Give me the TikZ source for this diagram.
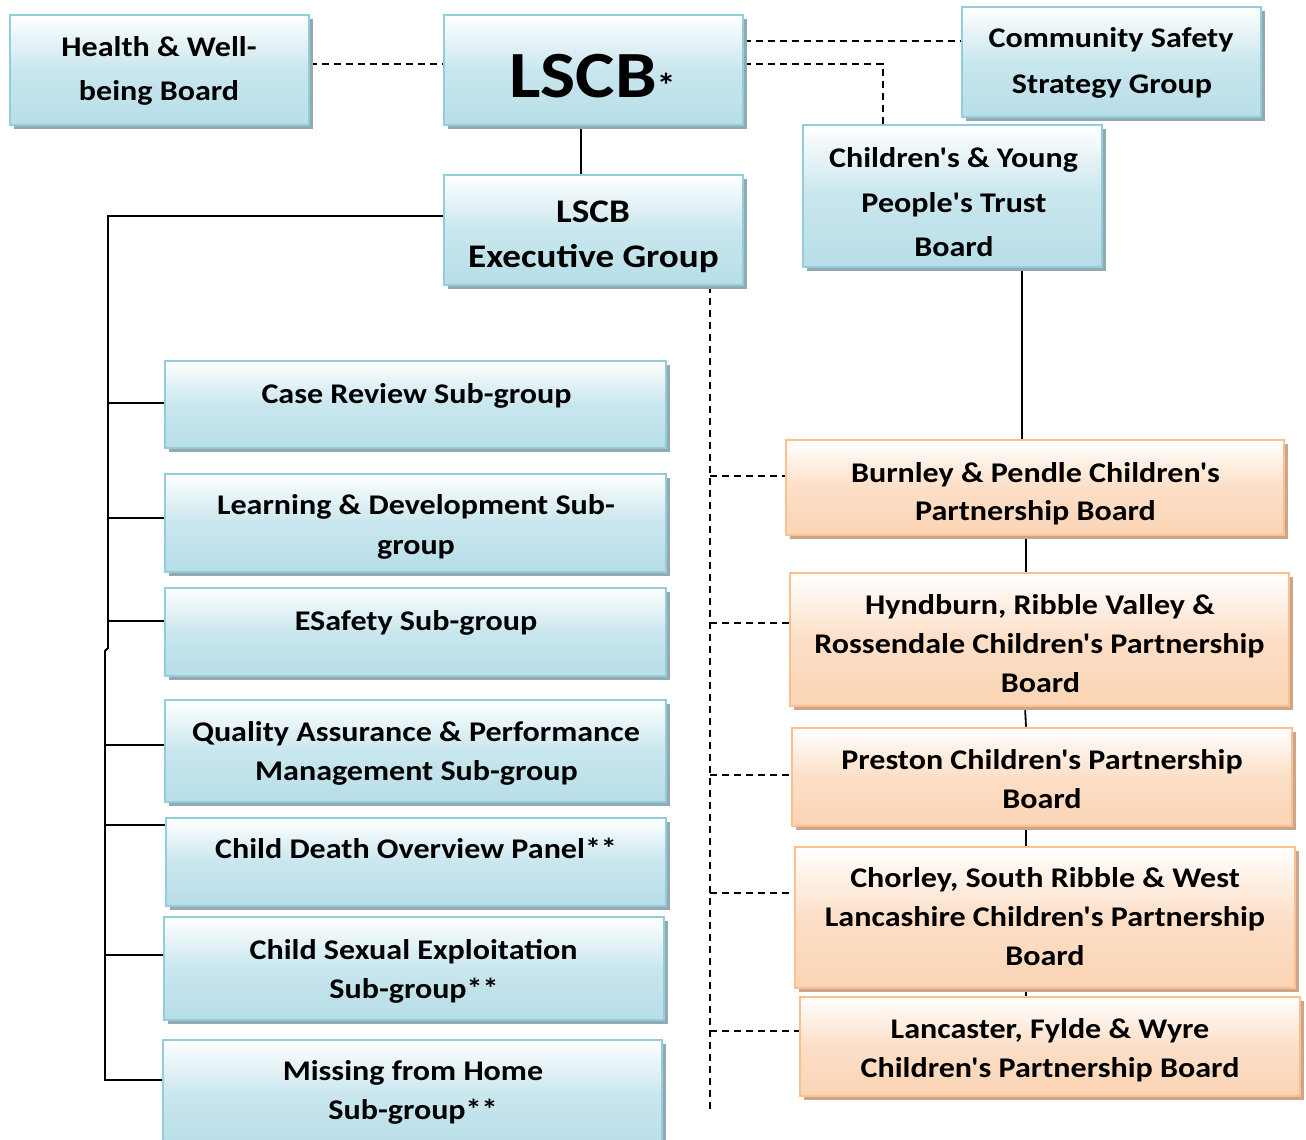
\documentclass[tikz,border=0pt]{standalone}
\usepackage{fontspec}
\setmainfont{Carlito}[FakeStretch=1.125, Ligatures=TeXOff]
\usetikzlibrary{shadows,calc}
\definecolor{bborder}{HTML}{93CDDD}
\definecolor{bfill}{HTML}{B7DEE8}
\definecolor{bshadow}{HTML}{94AAB1}
\definecolor{oborder}{HTML}{FAC090}
\definecolor{ofill}{HTML}{FBD4B4}
\definecolor{oshadow}{HTML}{CDA58A}
\pgfdeclarelayer{bg}
\pgfsetlayers{bg,main}
\begin{document}
\begin{tikzpicture}[x=1pt,y=-1pt,
  bluebox/.style={draw=bborder, line width=2.5pt, top color=white, bottom color=bfill, middle color=bfill!75!white, inner sep=0pt,
    drop shadow={fill=bshadow, opacity=1, shadow xshift=4pt, shadow yshift=-4pt}},
  orangebox/.style={draw=oborder, line width=2.5pt, top color=white, bottom color=ofill, middle color=ofill!75!white, inner sep=0pt,
    drop shadow={fill=oshadow, opacity=1, shadow xshift=4pt, shadow yshift=-4pt}},
  txt/.style={anchor=base, inner sep=0pt, font=\bfseries\fontsize{28.5}{34}\selectfont},
  txtb/.style={anchor=base, inner sep=0pt, font=\bfseries\fontsize{33}{40}\selectfont},
  conn/.style={line width=1.8pt, black},
  dconn/.style={line width=1.5pt, black, dash pattern=on 7pt off 5pt}]
\useasboundingbox (0,0) rectangle (1306,1140);

% ---------- boxes ----------
\node[bluebox, minimum width=299pt, minimum height=110pt] (health) at (159.5,70) {};
\node[bluebox, minimum width=299pt, minimum height=110pt] (lscb) at (593.5,70) {};
\node[bluebox, minimum width=299pt, minimum height=110pt] (css) at (1111.5,62) {};
\node[bluebox, minimum width=299pt, minimum height=142pt] (cyp) at (952.5,196) {};
\node[bluebox, minimum width=299pt, minimum height=110pt] (exec) at (593.5,230) {};
\node[bluebox, minimum width=501pt, minimum height=87pt] (case) at (415.5,404.5) {};
\node[bluebox, minimum width=501pt, minimum height=98pt] (ld) at (415.5,523) {};
\node[bluebox, minimum width=501pt, minimum height=88pt] (esafe) at (415.5,632) {};
\node[bluebox, minimum width=501pt, minimum height=102pt] (qa) at (415.5,751) {};
\node[bluebox, minimum width=500pt, minimum height=88pt] (cdop) at (416,862) {};
\node[bluebox, minimum width=500pt, minimum height=103pt] (cse) at (414,968.5) {};
\node[bluebox, minimum width=499pt, minimum height=110pt] (mfh) at (412.5,1095) {};
\node[orangebox, minimum width=498pt, minimum height=95pt] (burnley) at (1035,487.5) {};
\node[orangebox, minimum width=499pt, minimum height=133pt] (hynd) at (1039.5,639.5) {};
\node[orangebox, minimum width=500pt, minimum height=98pt] (preston) at (1042,777) {};
\node[orangebox, minimum width=500pt, minimum height=141pt] (chorley) at (1045,917.5) {};
\node[orangebox, minimum width=500pt, minimum height=99pt] (lanc) at (1050,1046.5) {};

% ---------- texts ----------
\node[txt] (th1) at (159,57) {Health \& Well-};
\node[txt] (th2) at (159,100) {being Board};
\node[anchor=base, inner sep=0pt, font=\bfseries\fontsize{66}{70}\selectfont] (tl1) at (592.5,97) {LSCB{\fontsize{34}{36}\selectfont *}};
\node[txt] (tc1) at (1111,48) {Community Safety};
\node[txt] (tc2) at (1112,93) {Strategy Group};
\node[txt] (ty1) at (953.5,167) {Children's \& Young};
\node[txt] (ty2) at (954,212) {People's Trust};
\node[txt] (ty3) at (954,256) {Board};
\node[txtb] (te1) at (593,222) {LSCB};
\node[txtb] (te2) at (593.5,267) {Executive Group};
\node[txt] (ts1) at (416.5,403) {Case Review Sub-group};
\node[txt] (ts2) at (416,514) {Learning \& Development Sub-};
\node[txt] (ts3) at (416,554) {group};
\node[txt] (ts4) at (416,630) {ESafety Sub-group};
\node[txt] (ts5) at (416,741) {Quality Assurance \& Performance};
\node[txt] (ts6) at (416.5,780) {Management Sub-group};
\node[txt] (ts7) at (416,858) {Child Death Overview Panel**};
\node[txt] (ts8) at (413.5,959) {Child Sexual Exploitation};
\node[txt] (ts9) at (414,998) {Sub-group**};
\node[txt] (ts10) at (413,1080) {Missing from Home};
\node[txt] (ts11) at (413,1119) {Sub-group**};
\node[txt] (to1) at (1035.5,482) {Burnley \& Pendle Children's};
\node[txt] (to2) at (1035.5,520) {Partnership Board};
\node[txt] (to3) at (1040,614) {Hyndburn, Ribble Valley \&};
\node[txt] (to4) at (1039.5,653) {Rossendale Children's Partnership};
\node[txt] (to5) at (1040.5,692) {Board};
\node[txt] (to6) at (1042,769) {Preston Children's Partnership};
\node[txt] (to7) at (1042,808) {Board};
\node[txt] (to8) at (1045,887) {Chorley, South Ribble \& West};
\node[txt] (to9) at (1045,926) {Lancashire Children's Partnership};
\node[txt] (to10) at (1045,965) {Board};
\node[txt] (to11) at (1050,1038) {Lancaster, Fylde \& Wyre};
\node[txt] (to12) at (1050,1077) {Children's Partnership Board};

% ---------- coordinates ----------
\coordinate (y64) at (0,64);
\coordinate (y41) at (0,41);
\coordinate (cypturn) at (883,64);
\coordinate (b0) at (108,216);
\coordinate (bj) at (108,648);
\coordinate (bj2) at (105,651);
\coordinate (b7) at (105,1080);
\coordinate (b1) at (108,403);
\coordinate (b2) at (108,518);
\coordinate (b3) at (108,621);
\coordinate (b4) at (105,745);
\coordinate (b5) at (105,825);
\coordinate (b6) at (105,955);
\coordinate (dEnd) at (710,1110);
\coordinate (d1) at (710,476);
\coordinate (d2) at (710,623);
\coordinate (d3) at (710,775);
\coordinate (d4) at (710,893);
\coordinate (d5) at (710,1031);

% ---------- connectors ----------
\begin{pgfonlayer}{bg}
\draw[dconn] (health.east |- y64) -- (lscb.west |- y64);
\draw[dconn] (lscb.east |- y41) -- (css.west |- y41);
\draw[dconn] (lscb.east |- y64) -- (cypturn) -- (cyp.north -| cypturn);
\draw[conn] ([xshift=-12.5pt]lscb.south) -- ([xshift=-12.5pt]exec.north);
\draw[conn] (exec.west |- b0) -- (b0) -- (bj) -- (bj2) -- (b7) -- (mfh.west |- b7);
\draw[conn] (b1) -- (case.west |- b1);
\draw[conn] (b2) -- (ld.west |- b2);
\draw[conn] (b3) -- (esafe.west |- b3);
\draw[conn] (b4) -- (qa.west |- b4);
\draw[conn] (b5) -- (cdop.west |- b5);
\draw[conn] (b6) -- (cse.west |- b6);
\draw[dconn] ([xshift=116.5pt]exec.south) -- (dEnd);
\draw[dconn] (d1) -- (burnley.west |- d1);
\draw[dconn] (d2) -- (hynd.west |- d2);
\draw[dconn] (d3) -- (preston.west |- d3);
\draw[dconn] (d4) -- (chorley.west |- d4);
\draw[dconn] (d5) -- (lanc.west |- d5);
\draw[conn] ([xshift=69.5pt]cyp.south) -- ([xshift=-13pt]burnley.north);
\draw[conn] ([xshift=-9pt]burnley.south) -- ([xshift=-13.5pt]hynd.north);
\draw[conn] ([xshift=-14.5pt]hynd.south) -- ([xshift=-16pt]preston.north);
\draw[conn] ([xshift=-16pt]preston.south) -- ([xshift=-19pt]chorley.north);
\draw[conn] ([xshift=-19pt]chorley.south) -- ([xshift=-24pt]lanc.north);
\end{pgfonlayer}
\end{tikzpicture}
\end{document}
